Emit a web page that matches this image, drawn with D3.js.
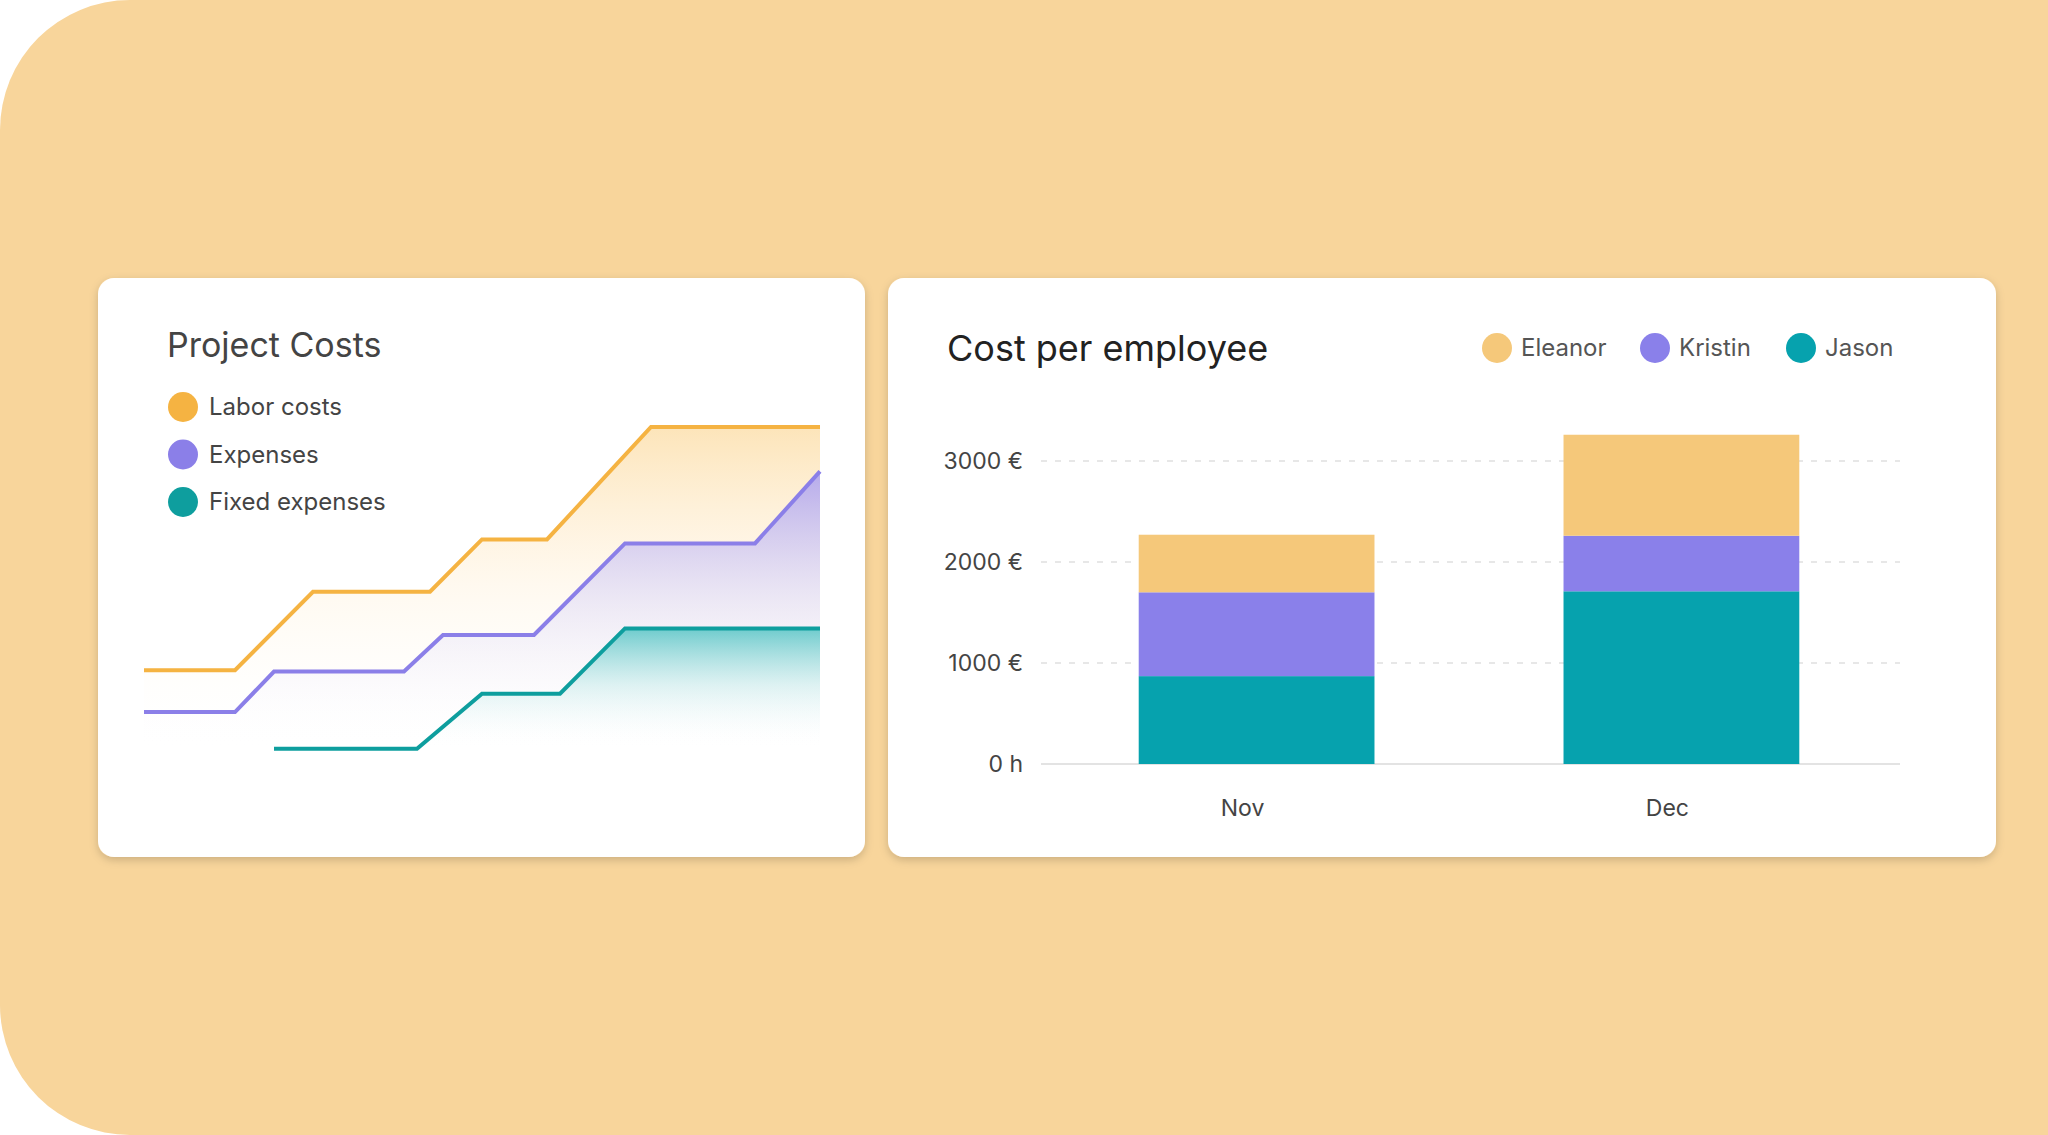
<!DOCTYPE html>
<html><head><meta charset="utf-8">
<script src="https://cdn.jsdelivr.net/npm/d3@7/dist/d3.min.js"></script>
<style>body{margin:0;background:#fff;font-family:Inter,"Noto Sans",sans-serif}</style>
</head><body><svg id="c" width="2048" height="1135"></svg>
<script>
// Project costs (x: week, y: €)
const laborX=[0,7,13,22,26,31,39,52];
const laborY=[870,870,1470,1470,1870,1870,2730,2730];
const expX=[0,7,10,20,23,30,37,47,52];
const expY=[550,550,860,860,1140,1140,1840,1840,2390];
const fixX=[10,21,26,32,37,52];
const fixY=[270,270,690,690,1190,1190];
const lineSeries=["Labor costs","Expenses","Fixed expenses"];
const lineColors=["#F5B342","#8B7FE8","#0E9E9E"];
// Cost per employee
const months=["Nov","Dec"];
const employees=["Jason","Kristin","Eleanor"];
const jason=[870,1710];
const kristin=[830,550];
const eleanor=[570,1000];
const empColors={Eleanor:"#F5C87A",Kristin:"#8A80EA",Jason:"#06A2AE"};
const yTicks=[0,1000,2000,3000];
const yTickLabels=["0 h","1000 €","2000 €","3000 €"];

const svg=d3.select("#c");
const defs=svg.append("defs");
const f=defs.append("filter").attr("id","sh").attr("x","-5%").attr("y","-5%").attr("width","110%").attr("height","115%");
f.append("feDropShadow").attr("dx",0).attr("dy",3).attr("stdDeviation",4).attr("flood-color","#000").attr("flood-opacity",0.18);
svg.append("rect").attr("x",0).attr("y",0).attr("width",2300).attr("height",1135).attr("rx",130).attr("fill","#F8D59B");
svg.append("rect").attr("x",98).attr("y",278).attr("width",767).attr("height",579).attr("rx",16).attr("fill","#fff").attr("filter","url(#sh)");
svg.append("rect").attr("x",888).attr("y",278).attr("width",1108).attr("height",579).attr("rx",16).attr("fill","#fff").attr("filter","url(#sh)");

// left chart
const g1=svg.append("g");
g1.append("text").attr("x",167).attr("y",357).attr("font-size",34).attr("fill","#444").text("Project Costs");
lineSeries.forEach((s,i)=>{
  g1.append("circle").attr("cx",183).attr("cy",407+i*47.5).attr("r",15).attr("fill",lineColors[i]);
  g1.append("text").attr("x",209).attr("y",415+i*47.5).attr("font-size",24).attr("fill","#444").text(s);
});
const x=d3.scaleLinear().domain([0,52]).range([144,820]);
const y=d3.scaleLinear().domain([0,2730]).range([784,427]);
const sets=[[laborX,laborY],[expX,expY],[fixX,fixY]];
const gstops=[[["#FCE0AE",0.9],["#FFF3DF",0.5],["#fff",0]],[["#A79CF0",0.9],["#DCD8F8",0.5],["#fff",0]],[["#3DBDBD",0.85],["#BFE9E8",0.5],["#fff",0]]];
sets.forEach((d,i)=>{
  const gr=defs.append("linearGradient").attr("id","g"+i).attr("gradientUnits","userSpaceOnUse").attr("x1",0).attr("x2",0).attr("y1",i==0?420:(i==1?460:620)).attr("y2",750);
  gr.selectAll("stop").data(gstops[i]).enter().append("stop").attr("offset",(s,k)=>k/2).attr("stop-color",s=>s[0]).attr("stop-opacity",s=>s[1]);
});
[0,1,2].forEach(i=>{
  const pts=sets[i][0].map((v,k)=>[v,sets[i][1][k]]);
  g1.append("path").datum(pts).attr("fill","url(#g"+i+")")
   .attr("d",d3.area().x(p=>x(p[0])).y0(760).y1(p=>y(p[1])));
});
[0,1,2].forEach(i=>{
  const pts=sets[i][0].map((v,k)=>[v,sets[i][1][k]]);
  g1.append("path").datum(pts).attr("fill","none").attr("stroke",lineColors[i]).attr("stroke-width",4)
   .attr("d",d3.line().x(p=>x(p[0])).y(p=>y(p[1])));
});

// right chart
const g2=svg.append("g");
g2.append("text").attr("x",947).attr("y",361).attr("font-size",36).attr("fill","#222").text("Cost per employee");
const legOrder=["Eleanor","Kristin","Jason"], legX=[1497,1655,1801];
legOrder.forEach((n,i)=>{
  g2.append("circle").attr("cx",legX[i]).attr("cy",348).attr("r",15).attr("fill",empColors[n]);
  g2.append("text").attr("x",legX[i]+24).attr("y",356).attr("font-size",24).attr("fill","#555").text(n);
});
const xb=d3.scaleBand().domain(months).range([1041,1897]).paddingInner(0.445).paddingOuter(0.23);
const yb=d3.scaleLinear().domain([0,3000]).range([764,461]);
yTicks.forEach((t,i)=>{
  g2.append("line").attr("x1",1041).attr("x2",1900).attr("y1",yb(t)).attr("y2",yb(t))
    .attr("stroke",t===0?"#e3e3e3":"#e0e0e0").attr("stroke-width",t===0?2:1.5).attr("stroke-dasharray",t===0?null:"6,8");
  g2.append("text").attr("x",1023).attr("y",yb(t)+8).attr("text-anchor","end").attr("font-size",23).attr("fill","#444").text(yTickLabels[i]);
});
const rows=months.map((m,i)=>({m,Jason:jason[i],Kristin:kristin[i],Eleanor:eleanor[i]}));
const stack=d3.stack().keys(employees)(rows);
stack.forEach(layer=>{
  g2.selectAll(null).data(layer).enter().append("rect")
   .attr("x",d=>xb(d.data.m)).attr("width",xb.bandwidth())
   .attr("y",d=>yb(d[1])).attr("height",d=>yb(d[0])-yb(d[1]))
   .attr("fill",empColors[layer.key]);
});
months.forEach(m=>g2.append("text").attr("x",xb(m)+xb.bandwidth()/2-14).attr("y",816).attr("text-anchor","middle").attr("font-size",23).attr("fill","#444").text(m));
</script></body></html>
